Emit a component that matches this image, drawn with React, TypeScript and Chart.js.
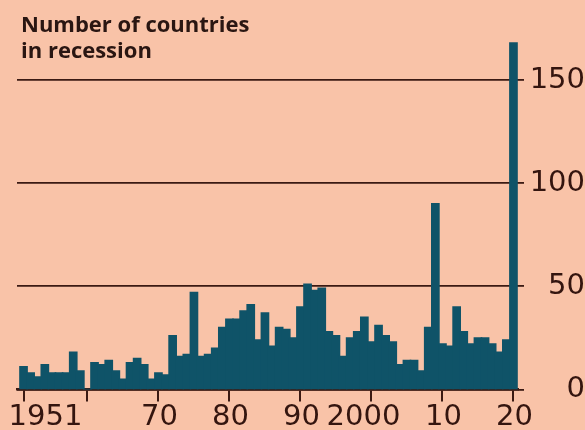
import React, { useEffect, useRef } from "react";
import { Chart, registerables } from "chart.js";

Chart.register(...registerables);

// Years covered by the series (one bar per year)
const years = [
  1951, 1952, 1953, 1954, 1955, 1956, 1957, 1958, 1959, 1960,
  1961, 1962, 1963, 1964, 1965, 1966, 1967, 1968, 1969, 1970,
  1971, 1972, 1973, 1974, 1975, 1976, 1977, 1978, 1979, 1980,
  1981, 1982, 1983, 1984, 1985, 1986, 1987, 1988, 1989, 1990,
  1991, 1992, 1993, 1994, 1995, 1996, 1997, 1998, 1999, 2000,
  2001, 2002, 2003, 2004, 2005, 2006, 2007, 2008, 2009, 2010,
  2011, 2012, 2013, 2014, 2015, 2016, 2017, 2018, 2019, 2020,
];

// Number of countries in recession in each year
const countriesInRecession = [
  11, 8, 6, 12, 8, 8, 8, 18, 9, 0,
  13, 12, 14, 9, 5, 13, 15, 12, 5, 8,
  7, 26, 16, 17, 47, 16, 17, 20, 30, 34,
  34, 38, 41, 24, 37, 21, 30, 29, 25, 40,
  51, 48, 49, 28, 26, 16, 25, 28, 35, 23,
  31, 26, 23, 12, 14, 14, 9, 30, 90, 22,
  21, 40, 28, 22, 25, 25, 22, 18, 24, 168,
];

// x-axis tick positions and their labels
const xTickYears = [1951, 1960, 1970, 1980, 1990, 2000, 2010, 2020];
const xTickLabels = ["1951", "", "70", "80", "90", "2000", "10", "20"];

// y-axis ticks
const yTickValues = [0, 50, 100, 150];

const BG = "#f9c3a8";
const BAR = "#0f5368";
const INK = "#34150f";
const GRID = "#3b1a13";
const TICK_FONT = { family: "'DejaVu Sans', sans-serif", size: 29, weight: "normal" as const, lineHeight: 1 };

// Draws the year labels under the x axis, the first one set flush-left
const xLabelsPlugin = {
  id: "xLabels",
  afterDraw(chart: Chart) {
    const ctx = chart.ctx;
    const xs = chart.scales.x;
    ctx.save();
    ctx.font = `${TICK_FONT.size}px ${TICK_FONT.family}`;
    ctx.fillStyle = INK;
    ctx.textBaseline = "alphabetic";
    const y = xs.top + 35.5;
    xTickYears.forEach((yr, i) => {
      const label = xTickLabels[i];
      if (!label) return;
      const px = xs.getPixelForValue(yr);
      if (i === 0) {
        ctx.textAlign = "left";
        ctx.fillText(label, px - 15, y);
      } else if (label === "2000") {
        ctx.textAlign = "center";
        ctx.fillText(label, px - 8, y);
      } else {
        ctx.textAlign = "center";
        ctx.fillText(label, px + 1, y);
      }
    });
    ctx.restore();
  },
};

export default function App() {
  const canvasRef = useRef<HTMLCanvasElement | null>(null);

  useEffect(() => {
    const canvas = canvasRef.current;
    if (!canvas) return;
    const chart = new Chart(canvas, {
      type: "bar",
      data: {
        datasets: [
          {
            data: years.map((yr, i) => ({ x: yr, y: countriesInRecession[i] })),
            backgroundColor: BAR,
            borderWidth: 0,
            inflateAmount: 0.8,
            barPercentage: 1,
            categoryPercentage: 1,
          },
        ],
      },
      options: {
        animation: false,
        responsive: false,
        maintainAspectRatio: false,
        layout: { padding: { left: 17, right: 0, top: 38.8, bottom: 0 } },
        plugins: {
          legend: { display: false },
          tooltip: { enabled: false },
          title: { display: false },
        },
        scales: {
          x: {
            type: "linear",
            offset: false,
            min: 1950.08,
            max: 2020.64,
            afterBuildTicks: (s: any) => {
              s.ticks = xTickYears.map((v) => ({ value: v }));
            },
            afterFit: (s: any) => {
              s.height = 40.5;
              s.paddingLeft = 0;
              s.paddingRight = 0;
            },
            ticks: { display: false, autoSkip: false, maxRotation: 0 },
            grid: {
              offset: false,
              drawOnChartArea: false,
              drawTicks: true,
              tickLength: 12,
              lineWidth: 2,
              color: GRID,
            },
            border: { display: true, width: 2.5, color: GRID },
          },
          y: {
            type: "linear",
            position: "right",
            min: 0,
            max: 170,
            afterBuildTicks: (s: any) => {
              s.ticks = yTickValues.map((v) => ({ value: v }));
            },
            afterFit: (s: any) => {
              s.width = 67;
              s.paddingTop = 0;
              s.paddingBottom = 0;
            },
            ticks: {
              font: TICK_FONT,
              color: INK,
              padding: 3,
              crossAlign: "far",
            },
            grid: {
              color: GRID,
              lineWidth: 1.8,
              drawTicks: true,
              tickLength: 6,
            },
            border: { display: false },
          },
        },
      },
      plugins: [xLabelsPlugin],
    });
    return () => chart.destroy();
  }, []);

  return (
    <div
      style={{
        position: "absolute",
        left: 0,
        top: 0,
        width: 585,
        height: 430,
        background: BG,
        overflow: "hidden",
      }}
    >
      <canvas
        ref={canvasRef}
        width={585}
        height={430}
        style={{ display: "block", position: "absolute", left: 0, top: 0 }}
      />
      <div
        style={{
          position: "absolute",
          left: 21,
          top: 10,
          fontFamily: "'Open Sans', sans-serif",
          fontWeight: 700,
          fontSize: 22,
          lineHeight: "26px",
          color: "#2a1612",
          whiteSpace: "nowrap",
        }}
      >
        Number of countries
        <br />
        in recession
      </div>
    </div>
  );
}
